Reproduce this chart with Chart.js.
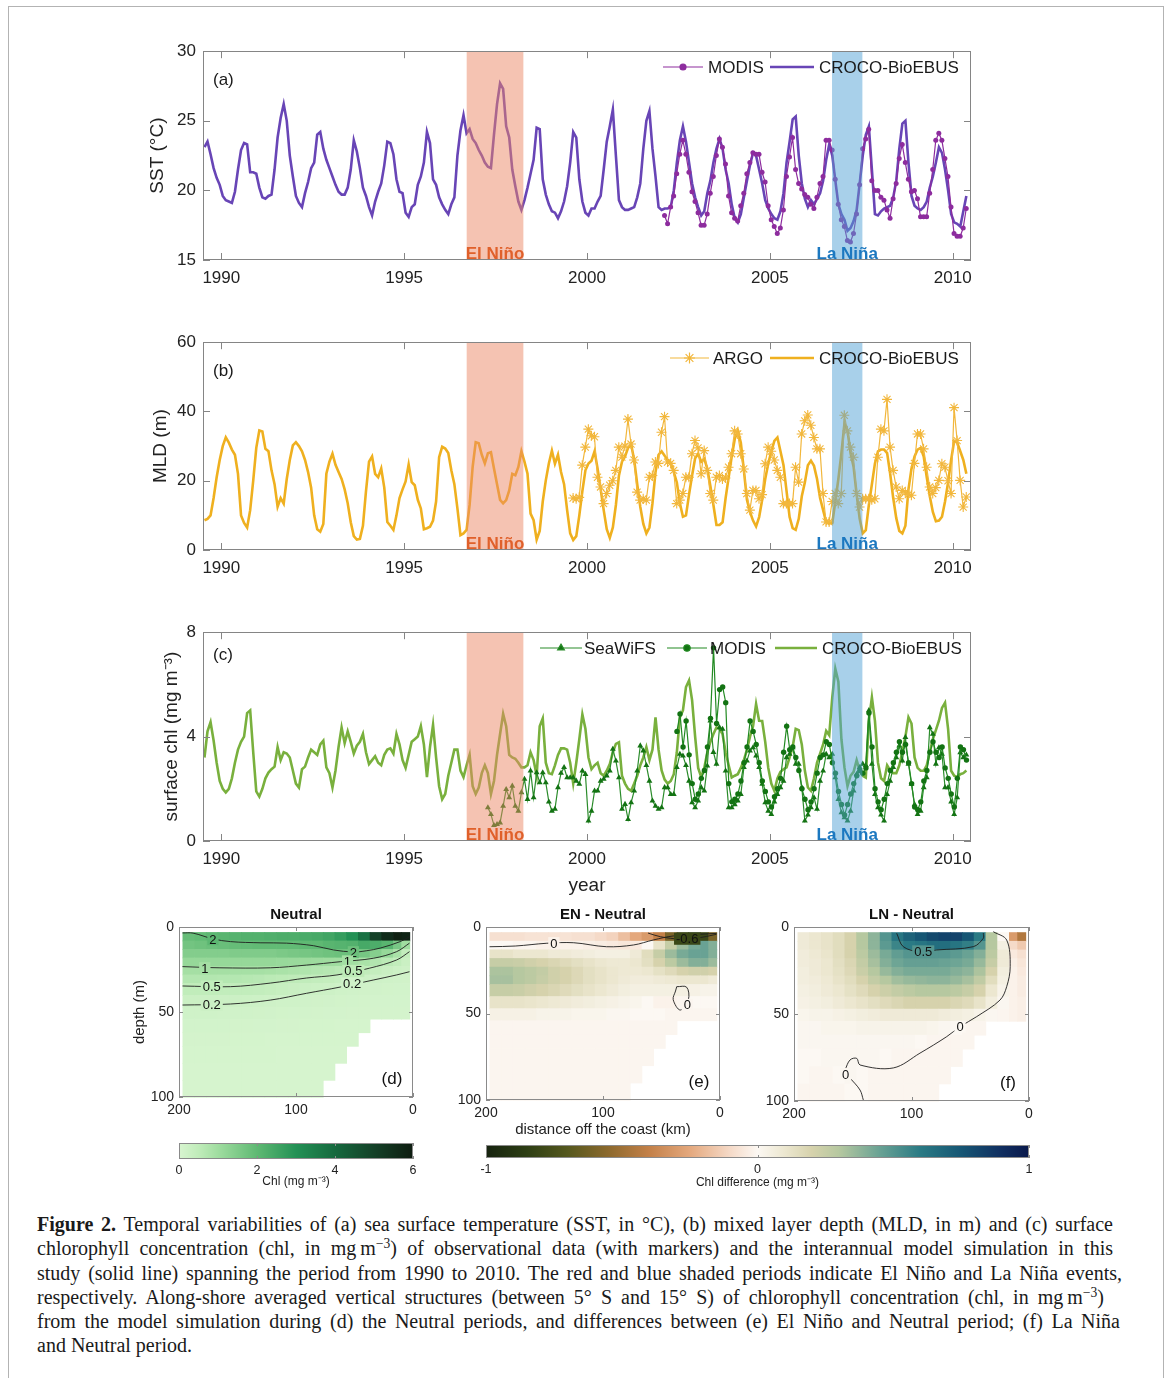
<!DOCTYPE html>
<html>
<head>
<meta charset="utf-8">
<title>Figure 2</title>
<script src="https://cdn.jsdelivr.net/npm/chart.js@4.4.1/dist/chart.umd.min.js"></script>
<style>
  html, body { margin: 0; padding: 0; background: #fff; }
  body { position: relative; width: 1169px; height: 1378px; overflow: hidden; }
  .frame { position: absolute; left: 8px; top: 6px; width: 1154px; height: 1420px; border: 1px solid #b3b3b3; }
  canvas { position: absolute; }
  .caption { position: absolute; left: 37px; top: 1212px; font-family: "Liberation Serif", "Times New Roman", serif;
             font-size: 20px; line-height: 24.3px; color: #1a1a1a; }
  .caption div { white-space: nowrap; text-align: justify; text-align-last: justify; }
  .caption div.last { text-align-last: left; }
  .caption sup { font-size: 0.68em; line-height: 0; vertical-align: 0.55em; }
</style>
</head>
<body>
<div class="frame"></div>
<canvas id="sst"></canvas>
<canvas id="mld"></canvas>
<canvas id="chl"></canvas>
<canvas id="secD"></canvas>
<canvas id="secE"></canvas>
<canvas id="secF"></canvas>
<canvas id="cbChl"></canvas>
<canvas id="cbDiff"></canvas>
<div class="caption">
  <div style="width:1076px"><b>Figure 2.</b> Temporal variabilities of (a) sea surface temperature (SST, in °C), (b) mixed layer depth (MLD, in m) and (c) surface</div>
  <div style="width:1076px">chlorophyll concentration (chl, in mg&#8201;m<sup>−3</sup>) of observational data (with markers) and the interannual model simulation in this</div>
  <div style="width:1085px">study (solid line) spanning the period from 1990 to 2010. The red and blue shaded periods indicate El Niño and La Niña events,</div>
  <div style="width:1067px">respectively. Along-shore averaged vertical structures (between 5° S and 15° S) of chlorophyll concentration (chl, in mg&#8201;m<sup>−3</sup>)</div>
  <div style="width:1083px">from the model simulation during (d) the Neutral periods, and differences between (e) El Niño and Neutral period; (f) La Niña</div>
  <div class="last">and Neutral period.</div>
</div>

<script>
const FONT = '"Liberation Sans", Arial, Helvetica, sans-serif';
Chart.defaults.font.family = FONT;
Chart.defaults.color = '#222';

// time axis and ENSO periods
const yearTicks = [1990, 1995, 2000, 2005, 2010];
const elNino = [1996.71, 1998.26];
const laNina = [2006.70, 2007.53];
const modelStart = 1989.54;   // first monthly model value (decimal year)

// (a) SST, deg C
const sstTicks = [15, 20, 25, 30];
const crocoSst = [
  23.1, 23.5, 22.6, 21.6, 20.9, 20.4, 19.6, 19.3, 19.2, 19.1, 19.9, 21.5,
  22.9, 23.4, 23.3, 21.3, 21.3, 21.2, 20.2, 19.5, 19.4, 19.6, 19.7, 21.5,
  23.8, 25.2, 26.2, 25.0, 22.5, 21.0, 19.6, 19.1, 18.8, 19.8, 20.6, 21.6,
  22.0, 24.0, 24.2, 23.0, 22.2, 21.6, 21.0, 20.4, 19.9, 19.7, 19.7, 20.2,
  21.5, 23.6, 22.8, 21.6, 20.2, 19.6, 18.8, 18.2, 19.2, 19.9, 20.5, 21.8,
  23.5, 23.4, 22.6, 20.8, 19.9, 19.8, 18.4, 18.1, 18.8, 19.0, 20.4, 21.0,
  22.0, 24.2, 23.4, 20.8, 20.4, 19.5, 19.0, 18.6, 18.3, 19.0, 19.5, 22.5,
  24.3, 25.4, 24.1, 24.4, 23.7, 23.4, 22.9, 22.5, 22.0, 21.7, 21.6, 24.0,
  26.2, 27.7, 27.3, 24.6, 23.8, 21.5, 20.3, 19.2, 18.6, 19.3, 20.2, 21.2,
  22.2, 24.5, 24.4, 20.8, 19.7, 19.0, 18.5, 18.4, 18.0, 18.5, 19.2, 20.3,
  22.0, 24.2, 23.8, 20.8, 19.2, 18.4, 18.2, 18.7, 18.7, 19.2, 19.6, 21.5,
  23.5, 24.6, 25.8, 22.5, 19.3, 18.8, 18.6, 18.6, 18.7, 18.8, 19.5, 20.5,
  23.0, 25.0, 25.7, 23.0, 21.0, 18.8, 18.6, 18.7, 18.7, 18.8, 20.0, 22.0,
  23.6, 24.6, 23.5, 22.0, 20.5, 19.5, 18.8, 18.2, 18.5, 19.8, 20.7, 22.0,
  23.0, 23.7, 23.0, 21.5, 20.5, 19.0, 18.0, 17.7, 18.3, 19.5, 20.7, 21.8,
  22.7, 22.5, 21.5, 20.5, 19.3, 18.7, 18.3, 18.0, 17.9, 18.5, 19.8, 22.0,
  23.5, 25.1, 25.3, 22.5, 20.5, 19.4, 18.8, 19.3, 19.0, 19.4, 19.8, 20.7,
  22.2, 23.3, 22.5, 20.7, 19.0, 18.3, 17.9, 17.1, 17.3, 17.8, 18.6, 20.5,
  22.5, 24.0, 24.6, 21.5, 18.3, 18.2, 18.5, 18.7, 18.8, 18.9, 19.5, 20.7,
  23.0, 24.8, 25.0, 22.0, 19.6, 18.9, 18.7, 18.6, 18.8, 19.2, 20.2, 21.0,
  22.0, 23.1, 22.7, 21.5, 20.0, 18.3, 17.7, 17.6, 17.4, 18.5, 19.6
];
const modisSstStart = 2002.12;
const modisSst = [
  18.2, 17.6, 18.8, 19.6, 21.2, 22.6, 23.6, 22.6, 21.3, 19.9, 19.2,
  18.4, 17.5, 17.5, 18.3, 19.8, 21.0, 22.5, 23.7, 23.1, 21.9, 19.6, 18.4,
  18.0, 17.8, 18.9, 19.8, 21.2, 22.0, 22.7, 22.6, 22.6, 21.3, 20.6, 18.9,
  17.9, 17.4, 16.9, 17.3, 18.6, 21.0, 22.4, 23.8, 21.5, 20.5, 20.1, 19.7,
  19.5, 19.0, 18.7, 19.5, 20.5, 21.0, 23.6, 23.6, 22.9, 20.8, 19.0, 17.9,
  17.4, 16.4, 16.3, 16.9, 18.3, 20.4, 23.0, 23.7, 24.4, 20.7, 20.0, 20.0,
  19.5, 19.3, 18.6, 18.0, 19.4, 20.5, 22.3, 23.3, 22.0, 20.8, 19.9, 20.0,
  19.4, 18.1, 18.1, 18.1, 19.8, 21.5, 23.6, 24.1, 23.6, 22.3, 21.0, 18.8,
  16.9, 16.7, 16.7, 17.3, 18.7
];

// (b) MLD, m
const mldTicks = [0, 20, 40, 60];
const crocoMld = [
  8.6, 9.0, 10.0, 15.0, 21.0, 26.0, 30.0, 32.5, 31.0, 29.0, 27.5, 22.0,
  10.0, 7.8, 6.5, 11.5, 20.0, 29.5, 34.5, 34.2, 29.2, 28.5, 23.0, 19.0,
  12.5, 15.0, 13.4, 20.5, 26.0, 30.2, 31.1, 30.0, 28.5, 26.0, 22.5, 18.0,
  10.0, 6.0, 5.3, 7.5, 22.0, 25.5, 27.8, 24.6, 22.5, 20.5, 17.5, 13.5,
  8.0, 4.0, 3.0, 3.2, 7.0, 17.0, 25.5, 27.0, 22.0, 21.0, 23.5, 18.0,
  8.1, 7.0, 5.8, 10.0, 15.0, 17.5, 19.8, 24.7, 19.6, 18.7, 14.5, 12.0,
  6.0, 6.3, 6.7, 8.5, 14.0, 26.8, 29.8, 29.3, 28.0, 23.0, 19.0, 12.0,
  4.3, 4.8, 5.8, 13.0, 24.0, 31.1, 30.8, 27.5, 25.0, 27.9, 28.2, 23.5,
  19.0, 14.5, 13.5, 14.4, 17.2, 22.0, 21.6, 24.0, 28.5, 25.5, 22.0, 10.5,
  8.6, 3.0, 5.5, 14.0, 20.1, 25.0, 28.7, 24.9, 27.5, 22.5, 19.0, 11.5,
  4.8, 2.9, 4.0, 10.0, 17.0, 23.0, 25.0, 25.8, 28.5, 23.5, 17.5, 11.5,
  6.0, 3.5, 6.5, 13.0, 21.5, 25.5, 27.0, 29.5, 30.5, 26.0, 19.0, 12.5,
  7.5, 4.8, 6.5, 13.5, 22.5, 27.5, 28.5, 27.2, 26.0, 25.0, 22.5, 19.5,
  13.5, 9.6, 10.0, 16.0, 21.5, 26.5, 27.8, 25.5, 26.3, 23.5, 18.5, 13.0,
  7.2, 7.2, 8.0, 15.0, 21.0, 27.0, 32.0, 34.5, 31.0, 23.0, 14.5, 11.0,
  8.5, 6.8, 9.5, 14.5, 20.5, 25.0, 28.5, 31.5, 32.5, 28.5, 24.5, 17.0,
  9.5, 6.3, 5.8, 9.0, 15.5, 19.5, 24.5, 25.8, 24.3, 20.5, 15.0, 11.5,
  8.0, 7.7, 7.8, 14.0, 20.5, 28.0, 36.5, 34.5, 28.0, 24.0, 16.0, 9.0,
  4.8, 5.7, 13.0, 19.0, 25.0, 28.5, 29.0, 29.0, 28.0, 22.0, 15.0, 9.2,
  5.5, 4.8, 7.0, 17.5, 23.5, 27.0, 29.0, 29.5, 27.0, 21.0, 15.5, 11.0,
  8.3, 8.5, 9.6, 14.0, 19.5, 26.0, 31.5, 31.0, 28.5, 26.0, 22.0
];
const argoStart = 1999.62;
const argoMld = [
  15.0, 14.8, 15.2, 24.5, 29.7,
  34.9, 33.0, 32.7, 21.0, 18.2, 13.4, 16.3, 18.7, 20.0, 23.0, 29.7, 26.8,
  30.0, 37.8, 30.6, 26.0, 16.7, 14.4, 14.8, 14.4, 21.0, 21.5, 25.4, 25.0,
  34.0, 38.5, 25.4, 25.0, 23.0, 13.4, 14.4, 16.3, 21.0, 21.0, 27.8, 31.6,
  29.5, 22.0, 28.7, 23.0, 16.3, 14.4, 21.0, 21.5, 20.5, 20.8, 23.9, 27.8,
  34.4, 33.5, 27.8, 23.4, 16.3, 11.5, 17.2, 17.2, 14.8, 16.0, 24.9, 29.7,
  28.5, 26.0, 23.0, 21.0, 13.4, 13.4, 13.4, 13.4, 23.9, 19.6, 33.5, 37.3,
  39.0, 36.0, 32.5, 29.2, 29.2, 16.3, 8.1, 8.1, 14.0, 16.3, 13.4, 16.3,
  38.9, 34.4, 29.7, 26.8, 16.3, 12.4, 14.8, 14.8, 14.8, 14.5, 14.8, 26.8,
  34.9, 34.4, 43.5, 29.7, 23.0, 18.2, 14.8, 17.2, 16.7, 16.0, 15.8, 25.0,
  33.5, 33.5, 29.2, 23.9, 18.2, 16.3, 18.0, 20.1, 24.9, 23.9, 20.0, 16.3,
  41.1, 31.6, 20.1, 12.4, 15.3
];

// (c) surface chl, mg m-3
const chlTicks = [0, 4, 8];
const crocoChl = [
  3.2, 4.2, 4.55, 3.85, 3.0, 2.3, 2.0, 1.86, 2.0, 2.4, 3.0, 3.5,
  3.8, 4.0, 4.9, 5.0, 3.4, 1.9, 1.7, 2.0, 2.4, 2.62, 2.75, 2.85,
  3.6, 3.1, 3.4, 3.35, 3.2, 2.7, 2.2, 2.05, 2.75, 2.85, 3.2, 3.5,
  3.4, 3.3, 3.7, 3.84, 2.82, 2.6, 2.05, 2.7, 3.6, 4.35, 3.75, 4.2,
  3.8, 3.35, 3.65, 3.8, 4.1, 3.4, 2.95, 3.1, 3.25, 3.0, 2.9, 3.3,
  3.5, 3.55, 3.35, 4.1, 3.7, 3.1, 2.8, 3.3, 3.8, 3.9, 4.0, 4.4,
  3.7, 2.45, 3.6, 4.45, 3.2, 2.1, 1.6, 1.8, 2.5, 3.0, 3.5, 3.5,
  2.7, 2.45, 2.9, 3.3, 2.1, 1.8, 2.05, 2.6, 2.9, 2.6, 1.8, 2.3,
  3.3, 4.1, 4.87, 4.4, 3.3, 3.2, 3.15, 3.0, 2.82, 2.82, 2.9, 3.4,
  3.1, 2.5, 4.4, 4.7, 3.0, 2.6, 2.56, 2.9, 3.3, 3.55, 3.55, 3.5,
  3.0, 2.2, 3.0, 3.9, 4.85, 4.3, 3.2, 2.75, 2.9, 3.0, 2.6, 2.5,
  2.69, 2.95, 3.4, 3.72, 3.78, 2.5, 2.2, 2.0, 1.92, 2.2, 2.5, 2.9,
  3.2, 3.6, 3.1, 3.5, 4.74, 3.5, 2.7, 2.35, 2.2, 2.3, 2.56, 3.4,
  4.74, 5.0, 5.9, 6.15, 5.4, 4.0, 2.8, 2.45, 2.8, 3.4, 3.8, 4.1,
  4.35, 4.3, 4.1, 3.4, 2.9, 2.43, 2.5, 2.56, 2.8, 3.1, 3.5, 4.0,
  4.4, 5.25, 4.61, 4.6, 3.8, 2.8, 2.2, 1.92, 2.4, 2.65, 2.75, 2.82,
  3.2, 3.6, 4.3, 4.25, 3.7, 2.7, 2.05, 1.92, 2.4, 3.0, 3.35, 3.7,
  4.22, 4.05, 5.5, 6.6, 6.1, 3.9, 2.82, 2.1, 2.5, 2.65, 3.1, 2.7,
  2.5, 2.43, 4.6, 5.5, 4.6, 3.0, 2.4, 2.3, 2.9, 2.7, 2.6, 2.6,
  2.9, 3.4, 4.0, 4.74, 4.5, 3.2, 2.8, 2.69, 2.69, 2.9, 3.4, 3.9,
  4.25, 4.61, 5.1, 5.3, 4.3, 2.69, 2.5, 2.45, 2.56, 2.6, 2.7
];
const seawifsStart = 1997.29;
const seawifsChl = [
  1.28, 1.02, 0.6, 0.64, 0.7, 1.34, 1.98, 1.66, 2.11,
  1.34, 1.15, 1.86, 2.37, 1.6, 2.69, 1.66, 2.62, 2.24, 2.62, 2.24, 1.5,
  1.15, 1.22, 2.05, 2.6, 2.82, 2.43, 2.43, 2.43, 2.3, 2.18, 2.69, 2.56,
  0.77, 1.15, 1.92, 1.92, 2.3, 2.37, 2.5, 2.69, 3.52, 3.07, 2.43, 1.22,
  1.41, 0.83, 1.47, 1.92, 2.69, 3.65, 3.46, 2.9, 2.3, 1.54, 1.34, 1.22,
  1.28, 2.05, 2.05, 1.79, 1.79, 2.82, 3.33, 3.26, 2.9, 2.3, 1.47, 1.28,
  1.54, 2.05, 1.92, 2.88, 4.61, 3.4, 2.95, 4.35, 4.29, 2.69, 1.28, 1.28,
  1.4, 1.54, 1.79, 2.82, 3.07, 3.46, 3.58, 3.26, 2.82, 2.18, 1.47, 1.15,
  1.02, 1.5, 1.79, 2.05, 2.3, 3.2, 3.33, 3.58, 2.95, 2.95, 2.05, 0.77,
  1.0, 1.28, 1.66, 1.22, 2.3, 2.69, 3.33, 3.2, 3.33, 2.43, 1.6, 1.09,
  0.9, 0.77, 1.15, 1.92, 2.56, 2.82, 2.95, 2.9, 5.0, 2.95, 1.79, 1.28,
  1.0, 0.77, 1.79, 2.3, 2.82, 3.2, 3.65, 3.07, 3.97, 2.95, 2.18, 1.4,
  1.02, 1.15, 2.05, 2.43, 4.35, 4.1, 2.95, 3.58, 3.33, 2.05, 2.05, 1.5,
  1.02, 1.66, 3.39, 3.2, 3.3
];
const modisChlStart = 2002.46;
const modisChl = [
  4.2, 4.87, 3.6, 4.6, 3.3, 2.2, 1.6,
  1.8, 2.4, 2.7, 3.6, 4.7, 7.4, 4.5, 5.8, 5.9, 5.3, 2.2, 1.5,
  1.6, 1.8, 2.3, 3.0, 3.6, 4.6, 4.2, 3.7, 3.0, 2.3, 1.9, 1.5,
  1.3, 1.7, 2.0, 2.4, 3.4, 4.4, 3.5, 3.6, 3.2, 2.7, 2.0, 1.6,
  1.2, 1.5, 2.0, 2.6, 3.2, 3.3, 3.8, 3.7, 3.0, 2.6, 1.9, 1.4,
  1.0, 1.4, 1.8, 2.2, 2.5, 2.7, 2.6, 2.8, 4.9, 3.6, 2.0, 1.5,
  1.2, 1.6, 2.2, 2.7, 3.0, 3.4, 3.8, 3.4, 3.7, 3.0, 2.2, 1.3,
  1.2, 1.5, 2.3, 2.7, 3.4, 3.8, 3.4, 3.2, 3.6, 2.8, 2.4, 1.8,
  1.3, 2.4, 3.6, 3.5, 3.1
];

// (d)-(f) sections: cell edges (km offshore, m depth), rows = depth, cols = offshore -> coast
const distEdges = [197, 187, 177, 167, 157, 147, 137, 127, 117, 107, 97, 87, 77, 67, 57, 47, 37, 27, 17, 10, 3];
const depthEdges = [3, 8, 13, 18, 23, 28, 33, 40, 47, 54, 62, 70, 80, 90, 100];
const distTicks = [0, 100, 200];
const depthTicks = [0, 50, 100];
const _ = null;

const chlNeutral = [
  [1.9, 1.95, 2.05, 2.1, 2.15, 2.2, 2.2, 2.25, 2.3, 2.3, 2.35, 2.4, 2.5, 2.7, 3.0, 3.8, 5.0, 5.6, 5.9, 5.8],
  [1.7, 1.75, 1.8, 1.85, 1.9, 1.92, 1.95, 1.95, 1.95, 1.95, 2.0, 2.0, 2.1, 2.15, 2.2, 2.4, 2.3, 2.1, 1.6, 1.0],
  [1.45, 1.45, 1.45, 1.45, 1.5, 1.5, 1.5, 1.5, 1.55, 1.6, 1.65, 1.7, 1.75, 1.8, 1.8, 1.65, 1.4, 1.15, 0.85, 0.45],
  [1.15, 1.15, 1.15, 1.15, 1.15, 1.15, 1.15, 1.15, 1.12, 1.1, 1.08, 1.05, 1.02, 1.0, 0.95, 0.85, 0.72, 0.58, 0.45, 0.3],
  [0.92, 0.92, 0.92, 0.92, 0.9, 0.9, 0.9, 0.88, 0.85, 0.8, 0.75, 0.7, 0.66, 0.6, 0.55, 0.48, 0.4, 0.32, 0.25, 0.2],
  [0.7, 0.7, 0.7, 0.68, 0.68, 0.65, 0.62, 0.58, 0.55, 0.52, 0.48, 0.44, 0.4, 0.35, 0.3, 0.25, 0.21, 0.18, 0.16, 0.15],
  [0.47, 0.47, 0.47, 0.46, 0.46, 0.45, 0.43, 0.4, 0.36, 0.32, 0.28, 0.25, 0.22, 0.19, 0.17, 0.15, 0.14, 0.13, 0.12, 0.12],
  [0.27, 0.27, 0.27, 0.26, 0.26, 0.25, 0.23, 0.21, 0.19, 0.18, 0.17, 0.15, 0.14, 0.13, 0.12, 0.11, 0.1, 0.1, 0.1, 0.1],
  [0.18, 0.18, 0.18, 0.17, 0.17, 0.16, 0.15, 0.14, 0.13, 0.12, 0.12, 0.11, 0.1, 0.1, 0.09, 0.09, 0.09, 0.09, 0.09, 0.09],
  [0.12, 0.12, 0.12, 0.12, 0.11, 0.11, 0.1, 0.1, 0.09, 0.09, 0.08, 0.08, 0.08, 0.07, 0.07, 0.07, _, _, _, _],
  [0.09, 0.09, 0.09, 0.09, 0.08, 0.08, 0.08, 0.07, 0.07, 0.07, 0.06, 0.06, 0.06, 0.06, 0.06, _, _, _, _, _],
  [0.07, 0.07, 0.07, 0.07, 0.06, 0.06, 0.06, 0.06, 0.05, 0.05, 0.05, 0.05, 0.05, 0.05, _, _, _, _, _, _],
  [0.05, 0.05, 0.05, 0.05, 0.05, 0.05, 0.05, 0.05, 0.05, 0.05, 0.05, 0.05, 0.05, _, _, _, _, _, _, _],
  [0.04, 0.04, 0.04, 0.04, 0.04, 0.04, 0.04, 0.04, 0.04, 0.04, 0.04, 0.04, _, _, _, _, _, _, _, _]
];
const chlElNinoDiff = [
  [-0.08, -0.08, -0.08, -0.07, -0.07, -0.07, -0.07, -0.08, -0.08, -0.1, -0.12, -0.18, -0.25, -0.3, -0.4, -0.6, -0.8, -0.85, -0.8, -0.6],
  [0.0, 0.0, -0.01, -0.01, -0.02, -0.02, -0.02, -0.02, -0.03, -0.04, -0.05, -0.06, -0.05, 0.0, 0.12, 0.25, 0.35, 0.42, 0.45, 0.4],
  [0.12, 0.12, 0.1, 0.1, 0.1, 0.08, 0.08, 0.07, 0.06, 0.05, 0.05, 0.05, 0.08, 0.15, 0.25, 0.35, 0.42, 0.45, 0.45, 0.4],
  [0.25, 0.25, 0.24, 0.22, 0.2, 0.18, 0.16, 0.14, 0.12, 0.1, 0.09, 0.09, 0.1, 0.14, 0.2, 0.28, 0.35, 0.4, 0.4, 0.35],
  [0.32, 0.32, 0.3, 0.28, 0.26, 0.22, 0.2, 0.17, 0.14, 0.12, 0.1, 0.09, 0.09, 0.1, 0.13, 0.16, 0.2, 0.22, 0.22, 0.2],
  [0.33, 0.33, 0.3, 0.28, 0.25, 0.22, 0.2, 0.17, 0.14, 0.12, 0.1, 0.08, 0.07, 0.07, 0.08, 0.09, 0.1, 0.1, 0.1, 0.08],
  [0.25, 0.25, 0.24, 0.22, 0.2, 0.18, 0.16, 0.14, 0.12, 0.1, 0.08, 0.06, 0.05, 0.05, 0.05, 0.05, 0.05, 0.04, 0.03, 0.03],
  [0.12, 0.12, 0.12, 0.11, 0.1, 0.09, 0.08, 0.07, 0.06, 0.05, 0.04, 0.03, 0.02, 0.0, -0.02, -0.02, -0.01, 0.0, 0.0, 0.0],
  [0.04, 0.04, 0.04, 0.04, 0.03, 0.03, 0.03, 0.02, 0.02, 0.02, 0.01, 0.01, 0.0, 0.0, 0.0, -0.01, -0.01, -0.01, -0.01, -0.01],
  [-0.01, -0.01, -0.01, -0.01, -0.01, -0.01, -0.01, -0.01, -0.01, -0.01, -0.01, -0.01, -0.01, -0.01, -0.01, -0.01, _, _, _, _],
  [-0.01, -0.01, -0.01, -0.01, -0.01, -0.01, -0.01, -0.01, -0.01, -0.01, -0.01, -0.01, -0.01, -0.01, -0.01, _, _, _, _, _],
  [-0.01, -0.01, -0.01, -0.01, -0.01, -0.01, -0.01, -0.01, -0.01, -0.01, -0.01, -0.01, -0.01, -0.01, _, _, _, _, _, _],
  [-0.01, -0.01, -0.01, -0.01, -0.01, -0.01, -0.01, -0.01, -0.01, -0.01, -0.01, -0.01, -0.01, _, _, _, _, _, _, _],
  [-0.01, -0.01, -0.01, -0.01, -0.01, -0.01, -0.01, -0.01, -0.01, -0.01, -0.01, -0.01, _, _, _, _, _, _, _, _]
];
const chlLaNinaDiff = [
  [0.08, 0.1, 0.12, 0.15, 0.2, 0.3, 0.38, 0.5, 0.62, 0.7, 0.75, 0.8, 0.82, 0.82, 0.75, 0.6, 0.3, 0.0, -0.3, -0.45],
  [0.08, 0.1, 0.12, 0.15, 0.2, 0.3, 0.38, 0.48, 0.56, 0.6, 0.62, 0.65, 0.65, 0.62, 0.58, 0.5, 0.3, 0.05, -0.1, -0.15],
  [0.07, 0.09, 0.11, 0.15, 0.2, 0.28, 0.35, 0.42, 0.47, 0.5, 0.5, 0.5, 0.5, 0.48, 0.45, 0.4, 0.28, 0.08, -0.05, -0.08],
  [0.07, 0.08, 0.1, 0.14, 0.18, 0.26, 0.33, 0.4, 0.44, 0.46, 0.46, 0.46, 0.45, 0.44, 0.42, 0.36, 0.25, 0.08, -0.03, -0.06],
  [0.06, 0.08, 0.1, 0.13, 0.17, 0.24, 0.3, 0.36, 0.4, 0.42, 0.42, 0.42, 0.42, 0.4, 0.38, 0.32, 0.2, 0.06, -0.02, -0.05],
  [0.06, 0.07, 0.09, 0.12, 0.15, 0.2, 0.26, 0.3, 0.34, 0.36, 0.37, 0.38, 0.38, 0.36, 0.33, 0.27, 0.15, 0.05, -0.02, -0.04],
  [0.05, 0.06, 0.08, 0.1, 0.13, 0.16, 0.2, 0.23, 0.26, 0.28, 0.3, 0.3, 0.3, 0.28, 0.25, 0.2, 0.1, 0.03, -0.02, -0.04],
  [0.04, 0.05, 0.06, 0.08, 0.1, 0.12, 0.14, 0.16, 0.18, 0.2, 0.2, 0.2, 0.2, 0.18, 0.16, 0.12, 0.06, 0.01, -0.02, -0.03],
  [0.02, 0.03, 0.03, 0.04, 0.05, 0.06, 0.07, 0.08, 0.08, 0.08, 0.08, 0.08, 0.07, 0.06, 0.05, 0.03, 0.01, -0.01, -0.02, -0.03],
  [0.01, 0.01, 0.02, 0.02, 0.02, 0.03, 0.03, 0.03, 0.03, 0.03, 0.03, 0.02, 0.01, 0.0, -0.01, -0.01, _, _, _, _],
  [0.01, 0.01, 0.01, 0.01, 0.01, 0.01, 0.01, 0.01, 0.01, 0.01, 0.0, -0.01, -0.01, -0.01, -0.01, _, _, _, _, _],
  [0.0, 0.0, 0.01, 0.01, 0.01, 0.01, 0.01, 0.0, -0.01, -0.01, -0.01, -0.01, -0.01, -0.01, _, _, _, _, _, _],
  [0.0, -0.01, -0.01, 0.0, 0.01, 0.0, -0.01, -0.01, -0.01, -0.01, -0.01, -0.01, -0.01, _, _, _, _, _, _, _],
  [-0.01, -0.01, -0.01, -0.01, 0.0, 0.0, -0.01, -0.01, -0.01, -0.01, -0.01, -0.01, _, _, _, _, _, _, _, _]
];

// contour lines [km, m] and their labels [text, km, m]
const ctrN2 = [[197, 3.5], [188, 3.6], [171, 7], [156, 8.6], [130, 9.3], [108, 9.5], [85, 11], [68, 13.5], [51, 14.7], [40, 14], [28, 12.4], [11, 8.6], [3, 5.7]];
const ctrN1 = [[197, 23.3], [165, 24], [122, 24], [91, 22.4], [62, 20.4], [34, 18.4], [14, 14.5], [3, 9.5]];
const ctrN05 = [[197, 34.7], [156, 35.1], [122, 33], [91, 30], [65, 28.2], [37, 24.2], [14, 19.4], [3, 14.5]];
const ctrN02 = [[197, 45.9], [156, 45.3], [122, 43], [91, 39], [62, 35.3], [34, 31.2], [14, 28.2], [3, 26.3]];
const lblNeutral = [['2', 171, 7.2], ['1', 178, 24.2], ['0.5', 172, 35], ['0.2', 172, 45.7],
                    ['2', 51, 14.8], ['1', 56, 20.2], ['0.5', 51, 25.8], ['0.2', 52, 33.4]];
const ctrE0 = [[197, 11.4], [175, 11], [148, 9.4], [125, 9.1], [97, 11.4], [74, 10.4], [57, 7.5], [40, 5.2], [3, 3.7]];
const ctrE06 = [[61.5, 3.5], [51, 5.6], [34, 7], [20, 6.5], [3, 4.2]];
const ctrE0b = [[37, 34.5], [28.5, 34.8], [27, 42], [34, 48], [40, 42], [38, 37], [37, 34.5]];
const lblElNino = [['0', 142, 9.3], ['-0.6', 28, 6.8], ['0', 28, 45]];
const ctrL05 = [[112.6, 3.6], [107, 11.3], [92.8, 14.2], [78.6, 13.2], [47.4, 11.3], [38.9, 6.5], [38.9, 3.5]];
const ctrL0 = [[30.4, 2.7], [19, 7.5], [16, 22.8], [19, 34.3], [24.7, 42], [44.5, 51.5], [58.7, 57.3], [70, 63],
               [92.8, 72.5], [115.5, 81], [143.8, 79.3], [146.6, 75.5], [152.3, 76.4], [156.6, 82.2]];
const ctrL0b = [[152.3, 86.8], [143.8, 93.7], [141, 99.4]];
const lblLaNina = [['0.5', 90, 14], ['0', 58.7, 57.3], ['0', 156, 84.5]];

// colour maps [value, r, g, b]
const greenStops = [[0, 216, 245, 208], [0.5, 192, 236, 186], [1, 160, 221, 160], [2, 95, 185, 115],
                    [3, 35, 145, 85], [4, 22, 105, 62], [5, 20, 65, 40], [6, 14, 28, 16]];
const diffStops = [[-1, 22, 35, 15], [-0.85, 45, 62, 20], [-0.7, 85, 88, 30], [-0.55, 140, 105, 45],
                   [-0.4, 195, 128, 72], [-0.25, 228, 168, 125], [-0.1, 245, 218, 200], [0, 252, 248, 243],
                   [0.1, 236, 231, 208], [0.2, 214, 210, 172], [0.3, 182, 200, 160], [0.45, 105, 162, 148],
                   [0.6, 42, 122, 132], [0.75, 22, 86, 116], [0.9, 16, 46, 96], [1, 10, 25, 75]];

function monthly(start, values) {
  return values.map((v, i) => ({ x: start + i / 12, y: v }));
}
function pairs(arr) {
  return arr.map(p => ({ x: p[0], y: p[1] }));
}
function colorFor(stops, v) {
  if (v <= stops[0][0]) return `rgb(${stops[0][1]},${stops[0][2]},${stops[0][3]})`;
  for (let i = 1; i < stops.length; i++) {
    if (v <= stops[i][0]) {
      const a = stops[i - 1], b = stops[i];
      const t = (v - a[0]) / (b[0] - a[0]);
      const c = [1, 2, 3].map(k => Math.round(a[k] + (b[k] - a[k]) * t));
      return `rgb(${c[0]},${c[1]},${c[2]})`;
    }
  }
  const l = stops[stops.length - 1];
  return `rgb(${l[1]},${l[2]},${l[3]})`;
}
function place(id, x, y, w, h) {
  const cv = document.getElementById(id);
  cv.width = w; cv.height = h;
  cv.style.left = x + 'px'; cv.style.top = y + 'px';
  return cv;
}
const fixTicks = vals => s => { s.ticks = vals.map(v => ({ value: v })); };
const noGrid = { display: false, drawTicks: false, tickLength: 0 };

// ---------- time-series panels ----------
function seriesDecor(opt, pos) {
  return {
    id: 'seriesDecor',
    afterDatasetsDraw(chart) {
      const { ctx, chartArea: a, scales: { x, y } } = chart;
      ctx.save();
      // ENSO shading on top of the lines, semi-transparent
      [[elNino, 'rgba(235,135,101,0.5)'], [laNina, 'rgba(81,161,213,0.5)']].forEach(([p, c]) => {
        const x0 = x.getPixelForValue(p[0]), x1 = x.getPixelForValue(p[1]);
        ctx.fillStyle = c;
        ctx.fillRect(x0, a.top, x1 - x0, a.bottom - a.top);
      });
      ctx.font = 'bold 17px ' + FONT;
      ctx.textAlign = 'center';
      ctx.textBaseline = 'alphabetic';
      ctx.fillStyle = '#e0602a';
      ctx.fillText('El Niño', (x.getPixelForValue(elNino[0]) + x.getPixelForValue(elNino[1])) / 2, a.bottom - 1);
      ctx.fillStyle = '#1c78c0';
      ctx.fillText('La Niña', (x.getPixelForValue(laNina[0]) + x.getPixelForValue(laNina[1])) / 2, a.bottom - 1);

      // box and inward ticks
      ctx.strokeStyle = '#858585';
      ctx.lineWidth = 1;
      ctx.strokeRect(Math.round(a.left) + 0.5, Math.round(a.top) + 0.5, Math.round(a.right - a.left) - 1, Math.round(a.bottom - a.top) - 1);
      ctx.beginPath();
      yearTicks.forEach(v => {
        const px = Math.round(x.getPixelForValue(v)) + 0.5;
        ctx.moveTo(px, a.bottom); ctx.lineTo(px, a.bottom - 7);
        ctx.moveTo(px, a.top); ctx.lineTo(px, a.top + 7);
      });
      opt.yTicks.forEach(v => {
        const py = Math.round(y.getPixelForValue(v)) + 0.5;
        ctx.moveTo(a.left, py); ctx.lineTo(a.left + 7, py);
        ctx.moveTo(a.right, py); ctx.lineTo(a.right - 7, py);
      });
      ctx.stroke();

      // legend (positions given in page pixels)
      ctx.font = '17px ' + FONT;
      ctx.textAlign = 'left';
      ctx.textBaseline = 'middle';
      const ly = opt.legendY - pos.y;
      opt.legend.forEach(item => {
        const ds = chart.data.datasets[item.ds];
        const x0 = item.x0 - pos.x, x1 = item.x1 - pos.x;
        ctx.strokeStyle = ds.borderColor;
        ctx.lineWidth = ds.borderWidth;
        ctx.beginPath();
        ctx.moveTo(x0, ly); ctx.lineTo(x1, ly);
        ctx.stroke();
        if (ds.pointRadius > 0) {
          ctx.fillStyle = ds.backgroundColor;
          ctx.strokeStyle = ds.borderColor;
          ctx.lineWidth = 1.2;
          Chart.helpers.drawPoint(ctx, { pointStyle: ds.pointStyle, radius: ds.pointRadius + 0.5, rotation: 0, borderWidth: 1.2 },
                                  (x0 + x1) / 2, ly);
        }
        ctx.fillStyle = '#1a1a1a';
        ctx.fillText(ds.label, item.tx - pos.x, ly + 1);
      });
      ctx.fillText(opt.letter, a.left + 10, opt.letterY - pos.y);
      ctx.restore();
    }
  };
}

function seriesChart(id, pos, opt) {
  const cv = place(id, pos.x, pos.y, pos.w, pos.h);
  return new Chart(cv, {
    type: 'scatter',
    data: { datasets: opt.datasets },
    options: {
      responsive: false, animation: false, events: [],
      layout: { padding: { top: 12, right: 10, bottom: 0, left: 0 } },
      plugins: { legend: { display: false }, tooltip: { enabled: false } },
      scales: {
        x: {
          type: 'linear', min: 1989.5, max: 2010.5,
          afterBuildTicks: fixTicks(yearTicks),
          afterFit: s => { s.height = pos.xh; },
          grid: noGrid, border: { display: false },
          ticks: { font: { size: 17 }, color: '#222', padding: 8, maxRotation: 0, autoSkip: false, callback: v => String(v) },
          title: { display: !!opt.xTitle, text: opt.xTitle || '', font: { size: 19 }, color: '#222', padding: 0 }
        },
        y: {
          type: 'linear', min: opt.yTicks[0], max: opt.yTicks[opt.yTicks.length - 1],
          afterBuildTicks: fixTicks(opt.yTicks),
          afterFit: s => { s.width = pos.yw; },
          grid: noGrid, border: { display: false },
          ticks: { font: { size: 17 }, color: '#222', padding: 7, callback: v => String(v) },
          title: { display: true, text: opt.yTitle, font: { size: 19 }, color: '#222', padding: 0 }
        }
      }
    },
    plugins: [seriesDecor(opt, pos)]
  });
}

seriesChart('sst', { x: 146, y: 34, w: 835, h: 258, yw: 57, xh: 32 }, {
  yTicks: sstTicks, yTitle: 'SST (°C)', letter: '(a)', letterY: 80, legendY: 67,
  legend: [{ ds: 0, x0: 663, x1: 703, tx: 708 }, { ds: 1, x0: 770, x1: 814, tx: 819 }],
  datasets: [
    { label: 'MODIS', data: monthly(modisSstStart, modisSst), showLine: true, borderColor: '#8d2c9e', backgroundColor: '#8d2c9e',
      borderWidth: 1.2, pointStyle: 'circle', pointRadius: 2.5, pointBorderWidth: 0, order: 1 },
    { label: 'CROCO-BioEBUS', data: monthly(modelStart, crocoSst), showLine: true, borderColor: '#6845b6', backgroundColor: '#6845b6',
      borderWidth: 2.6, pointRadius: 0, order: 2 }
  ]
});

seriesChart('mld', { x: 149, y: 325, w: 832, h: 257, yw: 54, xh: 32 }, {
  yTicks: mldTicks, yTitle: 'MLD (m)', letter: '(b)', letterY: 371, legendY: 358,
  legend: [{ ds: 0, x0: 670, x1: 709, tx: 713 }, { ds: 1, x0: 770, x1: 814, tx: 819 }],
  datasets: [
    { label: 'ARGO', data: monthly(argoStart, argoMld), showLine: true, borderColor: '#f2b73c', backgroundColor: '#f2b73c',
      borderWidth: 1.2, pointStyle: 'star', pointRadius: 5, pointBorderWidth: 1.1, order: 1 },
    { label: 'CROCO-BioEBUS', data: monthly(modelStart, crocoMld), showLine: true, borderColor: '#efb01f', backgroundColor: '#efb01f',
      borderWidth: 2.6, pointRadius: 0, order: 2 }
  ]
});

seriesChart('chl', { x: 160, y: 615, w: 821, h: 282, yw: 43, xh: 56 }, {
  yTicks: chlTicks, yTitle: 'surface chl (mg m⁻³)', xTitle: 'year', letter: '(c)', letterY: 655, legendY: 648,
  legend: [{ ds: 0, x0: 540, x1: 582, tx: 584 }, { ds: 1, x0: 667, x1: 707, tx: 710 }, { ds: 2, x0: 775, x1: 817, tx: 822 }],
  datasets: [
    { label: 'SeaWiFS', data: monthly(seawifsStart, seawifsChl), showLine: true, borderColor: '#2b8c2b', backgroundColor: '#137313',
      borderWidth: 1.2, pointStyle: 'triangle', pointRadius: 3.4, pointBorderWidth: 0, order: 2 },
    { label: 'MODIS', data: monthly(modisChlStart, modisChl), showLine: true, borderColor: '#228a22', backgroundColor: '#137313',
      borderWidth: 1.2, pointStyle: 'circle', pointRadius: 2.7, pointBorderWidth: 0, order: 1 },
    { label: 'CROCO-BioEBUS', data: monthly(modelStart, crocoChl), showLine: true, borderColor: '#79b03d', backgroundColor: '#79b03d',
      borderWidth: 2.6, pointRadius: 0, order: 3 }
  ]
});

// ---------- vertical sections ----------
function cellAt(grid, d, z) {
  let c = -1, r = -1;
  for (let i = 0; i < distEdges.length - 1; i++) if (d <= distEdges[i] && d >= distEdges[i + 1]) { c = i; break; }
  for (let i = 0; i < depthEdges.length - 1; i++) if (z >= depthEdges[i] && z <= depthEdges[i + 1]) { r = i; break; }
  if (c < 0 || r < 0) return null;
  return grid[r][c];
}

function sectionDecor(opt) {
  return {
    id: 'sectionDecor',
    beforeDatasetsDraw(chart) {
      const { ctx, scales: { x, y } } = chart;
      ctx.save();
      opt.grid.forEach((row, r) => {
        row.forEach((v, c) => {
          if (v === null) return;
          const x0 = x.getPixelForValue(distEdges[c]), x1 = x.getPixelForValue(distEdges[c + 1]);
          const y0 = y.getPixelForValue(depthEdges[r]), y1 = y.getPixelForValue(depthEdges[r + 1]);
          ctx.fillStyle = colorFor(opt.stops, v);
          ctx.fillRect(Math.min(x0, x1), y0, Math.abs(x1 - x0) + 0.7, y1 - y0 + 0.7);
        });
      });
      ctx.restore();
    },
    afterDatasetsDraw(chart) {
      const { ctx, chartArea: a, scales: { x, y } } = chart;
      ctx.save();
      ctx.font = '13px ' + FONT;
      ctx.textAlign = 'center';
      ctx.textBaseline = 'middle';
      opt.labels.forEach(([t, d, z]) => {
        const px = x.getPixelForValue(d), py = y.getPixelForValue(z);
        const w = ctx.measureText(t).width + 4;
        const v = cellAt(opt.grid, d, z);
        ctx.fillStyle = v === null ? '#fff' : colorFor(opt.stops, v);
        ctx.fillRect(px - w / 2, py - 6, w, 12);
        ctx.fillStyle = '#111';
        ctx.fillText(t, px, py + 1);
      });
      ctx.strokeStyle = '#8a8a8a';
      ctx.lineWidth = 1;
      ctx.strokeRect(Math.round(a.left) + 0.5, Math.round(a.top) + 0.5, Math.round(a.right - a.left) - 1, Math.round(a.bottom - a.top) - 1);
      ctx.beginPath();
      distTicks.forEach(v => {
        const px = Math.round(x.getPixelForValue(v)) + 0.5;
        ctx.moveTo(px, a.bottom); ctx.lineTo(px, a.bottom - 4);
        ctx.moveTo(px, a.top); ctx.lineTo(px, a.top + 4);
      });
      depthTicks.forEach(v => {
        const py = Math.round(y.getPixelForValue(v)) + 0.5;
        ctx.moveTo(a.left, py); ctx.lineTo(a.left + 4, py);
        ctx.moveTo(a.right, py); ctx.lineTo(a.right - 4, py);
      });
      ctx.stroke();
      ctx.fillStyle = '#111';
      ctx.font = 'bold 15px ' + FONT;
      ctx.fillText(opt.title, (a.left + a.right) / 2, a.top - 12);
      ctx.font = '17px ' + FONT;
      ctx.fillText(opt.letter, a.right - 21, a.bottom - 18);
      ctx.restore();
    }
  };
}

function sectionChart(id, pos, opt) {
  const cv = place(id, pos.x, pos.y, pos.w, pos.h);
  return new Chart(cv, {
    type: 'scatter',
    data: {
      datasets: opt.contours.map(c => ({
        data: pairs(c), showLine: true, borderColor: '#1e1e1e', borderWidth: 0.9,
        pointRadius: 0, tension: 0.35
      }))
    },
    options: {
      responsive: false, animation: false, events: [],
      layout: { padding: { top: 25, right: 12, bottom: 0, left: 0 } },
      plugins: { legend: { display: false }, tooltip: { enabled: false } },
      scales: {
        x: {
          type: 'linear', min: 0, max: 200, reverse: true,
          afterBuildTicks: fixTicks(distTicks),
          afterFit: s => { s.height = pos.xh; },
          grid: noGrid, border: { display: false },
          ticks: { font: { size: 14 }, color: '#222', padding: 5, maxRotation: 0, autoSkip: false, callback: v => String(v) },
          title: { display: !!opt.xTitle, text: opt.xTitle || '', font: { size: 15 }, color: '#222', padding: 0 }
        },
        y: {
          type: 'linear', min: 0, max: 100, reverse: true,
          afterBuildTicks: fixTicks(depthTicks),
          afterFit: s => { s.width = pos.yw; },
          grid: noGrid, border: { display: false },
          ticks: { font: { size: 14 }, color: '#222', padding: 5, callback: v => String(v) },
          title: { display: !!opt.yTitle, text: opt.yTitle || '', font: { size: 15 }, color: '#222', padding: 0 }
        }
      }
    },
    plugins: [sectionDecor(opt)]
  });
}

sectionChart('secD', { x: 131, y: 902, w: 294, h: 227, yw: 48, xh: 32 }, {
  grid: chlNeutral, stops: greenStops, title: 'Neutral', letter: '(d)', yTitle: 'depth (m)',
  contours: [ctrN2, ctrN1, ctrN05, ctrN02], labels: lblNeutral
});
sectionChart('secE', { x: 446, y: 902, w: 286, h: 237, yw: 40, xh: 39 }, {
  grid: chlElNinoDiff, stops: diffStops, title: 'EN - Neutral', letter: '(e)', xTitle: 'distance off the coast (km)',
  contours: [ctrE0, ctrE06, ctrE0b], labels: lblElNino
});
sectionChart('secF', { x: 754, y: 902, w: 287, h: 231, yw: 40, xh: 32 }, {
  grid: chlLaNinaDiff, stops: diffStops, title: 'LN - Neutral', letter: '(f)',
  contours: [ctrL05, ctrL0, ctrL0b], labels: lblLaNina
});

// ---------- colour bars ----------
function colorbar(id, pos, stops, ticks, label) {
  const cv = place(id, pos.x, pos.y, pos.w, pos.h);
  return new Chart(cv, {
    type: 'scatter',
    data: { datasets: [] },
    options: {
      responsive: false, animation: false, events: [],
      layout: { padding: { top: 0, right: 15, bottom: 0, left: 15 } },
      plugins: { legend: { display: false }, tooltip: { enabled: false } },
      scales: {
        x: {
          type: 'linear', min: ticks[0], max: ticks[ticks.length - 1],
          afterBuildTicks: fixTicks(ticks),
          afterFit: s => { s.height = pos.xh; },
          grid: noGrid, border: { display: false },
          ticks: { font: { size: 12.5 }, color: '#222', padding: 4, maxRotation: 0, autoSkip: false, callback: v => String(v) },
          title: { display: true, text: label, font: { size: 12 }, color: '#222', padding: 0 }
        },
        y: { display: false, min: 0, max: 1 }
      }
    },
    plugins: [{
      id: 'cbar',
      beforeDatasetsDraw(chart) {
        const { ctx, chartArea: a, scales: { x } } = chart;
        ctx.save();
        const g = ctx.createLinearGradient(a.left, 0, a.right, 0);
        stops.forEach(s => g.addColorStop((x.getPixelForValue(s[0]) - a.left) / (a.right - a.left), `rgb(${s[1]},${s[2]},${s[3]})`));
        ctx.fillStyle = g;
        ctx.fillRect(a.left, a.top, a.right - a.left, a.bottom - a.top);
        ctx.strokeStyle = '#8a8a8a';
        ctx.lineWidth = 1;
        ctx.strokeRect(Math.round(a.left) + 0.5, Math.round(a.top) + 0.5, Math.round(a.right - a.left) - 1, Math.round(a.bottom - a.top) - 1);
        ctx.beginPath();
        ticks.forEach(v => {
          const px = Math.round(x.getPixelForValue(v)) + 0.5;
          ctx.moveTo(px, a.bottom); ctx.lineTo(px, a.bottom - 3);
          ctx.moveTo(px, a.top); ctx.lineTo(px, a.top + 3);
        });
        ctx.stroke();
        ctx.restore();
      }
    }]
  });
}

colorbar('cbChl', { x: 164, y: 1143, w: 264, h: 46, xh: 30 }, greenStops, [0, 2, 4, 6], 'Chl (mg m⁻³)');
colorbar('cbDiff', { x: 471, y: 1145, w: 573, h: 45, xh: 32 }, diffStops, [-1, 0, 1], 'Chl difference (mg m⁻³)');
</script>
</body>
</html>
